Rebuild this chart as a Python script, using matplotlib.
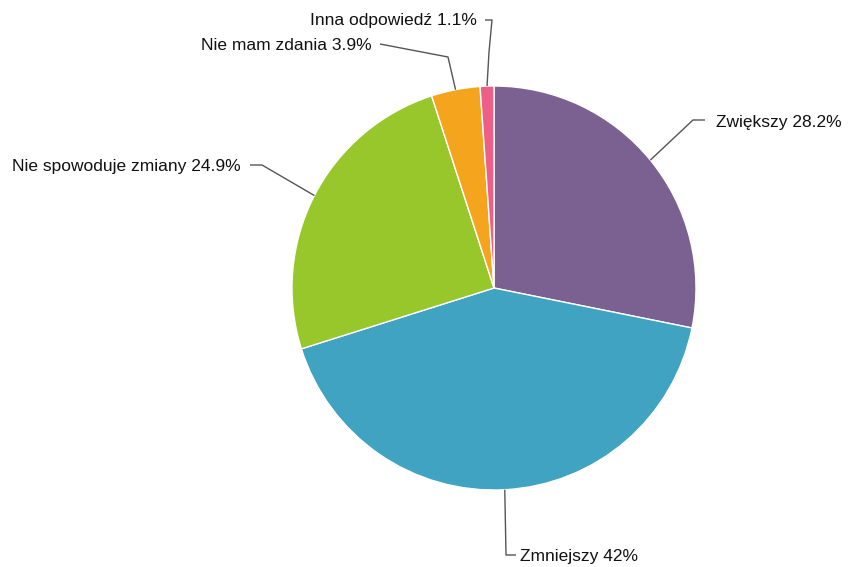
import numpy as np
import matplotlib.pyplot as plt

labels = ["Zwiększy", "Zmniejszy", "Nie spowoduje zmiany", "Nie mam zdania", "Inna odpowiedź"]
values = [28.2, 42, 24.9, 3.9, 1.1]
value_text = ["28.2%", "42%", "24.9%", "3.9%", "1.1%"]
colors = ["#7b6192", "#40a3c2", "#97c72a", "#f5a51d", "#ee5f87"]

W, H = 848, 567
plt.rcParams['font.family'] = ['Liberation Sans', 'DejaVu Sans']

fig = plt.figure(figsize=(W / 100, H / 100), dpi=100)
ax = fig.add_axes([0, 0, 1, 1])

cx, cy, r = 494, H - 288, 202
wedges, _ = ax.pie(values, colors=colors, startangle=90, counterclock=False,
                   center=(cx, cy), radius=r, frame=True,
                   wedgeprops=dict(edgecolor='white', linewidth=1))
ax.set_xlim(0, W)
ax.set_ylim(0, H)
ax.set_aspect('equal')
ax.axis('off')

# leader layout (pixel coords, y from top): elbow points, text anchor, alignment
layout = [
    ([(693, 120), (705, 120)], (716, 122), 'left'),
    ([(506, 555), (516, 555)], (520, 556), 'left'),
    ([(262, 165), (250, 165)], (241, 167), 'right'),
    ([(448, 57), (380, 44)], (372, 46), 'right'),
    ([(489, 52), (492, 20), (485, 20)], (477, 21), 'right'),
]

for w, lab, vt, (pts, tpos, ha) in zip(wedges, labels, value_text, layout):
    ang = np.deg2rad((w.theta1 + w.theta2) / 2)
    x0 = cx + r * np.cos(ang)
    y0 = cy + r * np.sin(ang)
    xs = [x0] + [p[0] for p in pts]
    ys = [y0] + [H - p[1] for p in pts]
    ax.plot(xs, ys, color='#555555', lw=1, solid_capstyle='butt')
    ax.text(tpos[0], H - tpos[1], lab + " " + vt, ha=ha, va='center',
            fontsize=12.5, color='#111111')

fig.savefig("out.png", dpi=100)
